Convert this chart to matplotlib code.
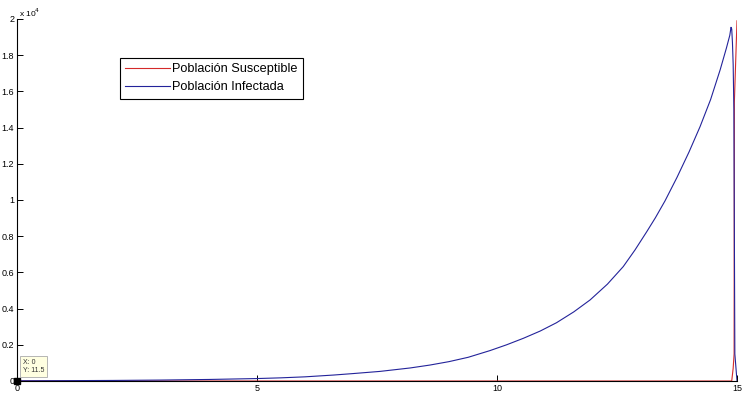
import numpy as np
import matplotlib
matplotlib.use("Agg")
from matplotlib import pyplot as plt

# Data
t_inf = [0, 1, 2, 3, 4, 5, 5.5, 6, 6.6, 7, 7.56, 8.19, 8.6, 9, 9.4, 9.854, 10.2, 10.55,
         10.9, 11.24, 11.6, 11.94, 12.3, 12.63, 12.875, 13.12, 13.3, 13.5, 13.75, 14.0,
         14.23, 14.45, 14.65, 14.78, 14.85, 14.875, 14.89, 14.905, 14.92, 14.935, 14.955, 15.0]
infectada = [11.5, 19, 31, 52, 85, 135, 175, 230, 330, 410, 530, 720, 880, 1070, 1310, 1680,
             2000, 2360, 2760, 3220, 3820, 4480, 5350, 6320, 7240, 8250, 9020, 9950, 11250,
             12650, 14050, 15550, 17200, 18400, 19100, 19540, 19450, 18700, 17500, 15000, 1500, 0]
t_sus = [0, 14.89, 14.92, 14.94, 14.945, 15.0]
susceptible = [0, 0, 700, 1500, 15400, 19900]

labels = ["Población Susceptible", "Población Infectada"]

plt.rcParams['font.family'] = ['Liberation Sans', 'DejaVu Sans']

fig = plt.figure(figsize=(7.53, 3.99), dpi=100)
ax = fig.add_axes([17 / 753, 18 / 399, 720 / 753, 362 / 399])

ax.plot(t_sus, susceptible, color='#d42a2a', lw=0.8, label=labels[0])
ax.plot(t_inf, infectada, color='#23239a', lw=0.8, label=labels[1])

ax.set_xlim(0, 15)
ax.set_ylim(0, 20000)
ax.set_xticks([0, 5, 10, 15])
ax.set_yticks(np.arange(0, 20001, 2000))
ax.set_yticklabels(['0', '0.2', '0.4', '0.6', '0.8', '1', '1.2', '1.4', '1.6', '1.8', '2'])
ax.tick_params(direction='in', length=4, width=0.7, labelsize=6.5, pad=2)
for s in ['top', 'right']:
    ax.spines[s].set_visible(False)
for s in ['left', 'bottom']:
    ax.spines[s].set_linewidth(0.8)

ax.text(0.003, 1.0, r'x 10$^4$', transform=ax.transAxes, fontsize=6, va='bottom', ha='left')

leg = ax.legend(loc='upper left', bbox_to_anchor=(0.143, 0.892), fontsize=9.2,
                fancybox=False, framealpha=1, edgecolor='black', handlelength=3.5,
                handletextpad=0.15, borderpad=0.42, labelspacing=0.45, borderaxespad=0)
leg.get_frame().set_linewidth(0.8)

# data tip
ax.plot([0], [11.5], marker='s', color='black', ms=5, clip_on=False, zorder=5)
ax.annotate('X: 0\nY: 11.5', xy=(0, 11.5), xytext=(4, 5), textcoords='offset points',
            fontsize=5, va='bottom', ha='left', color='#333333',
            bbox=dict(boxstyle='square,pad=0.4', fc='#ffffe1', ec='#aaaaaa', lw=0.6))

fig.savefig('out.png', dpi=100)
